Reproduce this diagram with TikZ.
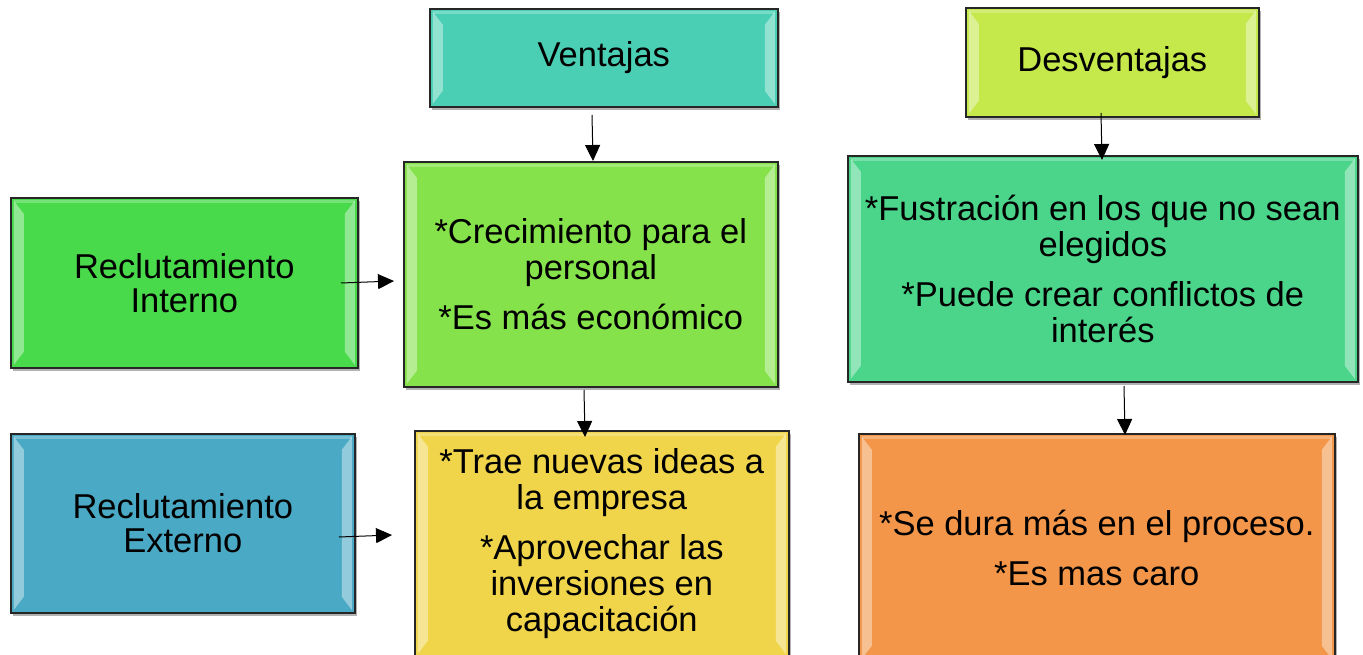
\documentclass[tikz,border=0pt]{standalone}
\usepackage{fontspec}
\setmainfont{Liberation Sans}
\usetikzlibrary{shadows,arrows.meta}
\definecolor{cteal}{HTML}{4ACFB5}
\definecolor{clime}{HTML}{C5E84B}
\definecolor{cgreenA}{HTML}{85E24B}
\definecolor{cgreenB}{HTML}{49DA4B}
\definecolor{cmint}{HTML}{4AD58A}
\definecolor{cblue}{HTML}{4AA9C5}
\definecolor{cyellow}{HTML}{F0D54A}
\definecolor{corange}{HTML}{F39649}
\begin{document}
\begin{tikzpicture}[x=1pt,y=-1pt,
  box/.style={draw=black!85, line width=1.6pt, rectangle, anchor=north west, inner sep=0pt,
    align=center, font=\fontsize{34.5}{36}\selectfont,
    drop shadow={shadow xshift=2pt,shadow yshift=-3pt,opacity=0.3,fill=black},
    path picture={
      \fill[white,opacity=0.4]
        ([xshift=3pt,yshift=-3pt]path picture bounding box.north west) --
        ([xshift=13pt,yshift=-16pt]path picture bounding box.north west) --
        ([xshift=13pt,yshift=16pt]path picture bounding box.south west) --
        ([xshift=3pt,yshift=3pt]path picture bounding box.south west) -- cycle;
      \fill[white,opacity=0.4]
        ([xshift=-3pt,yshift=-3pt]path picture bounding box.north east) --
        ([xshift=-13pt,yshift=-16pt]path picture bounding box.north east) --
        ([xshift=-13pt,yshift=16pt]path picture bounding box.south east) --
        ([xshift=-3pt,yshift=3pt]path picture bounding box.south east) -- cycle;
      \fill[white,opacity=0.25]
        ([xshift=3pt,yshift=-2pt]path picture bounding box.north west) rectangle
        ([xshift=-3pt,yshift=-5pt]path picture bounding box.north east);
    }},
  arr/.style={-{Triangle[length=16pt,width=15pt]}, line width=1pt}]
\useasboundingbox (0,0) rectangle (1363,655);

\node[box, fill=cteal, minimum width=348pt, minimum height=98pt] (vent) at (429,8) {Ventajas};
\node[box, fill=clime, minimum width=293pt, minimum height=109pt] (desv) at (965,7) {Desventajas};
\node[box, fill=cgreenA, minimum width=374pt, minimum height=225pt] (crec) at (403,161)
  {*Crecimiento para el\\personal\\[14pt]*Es más económico};
\node[box, fill=cgreenB, minimum width=347pt, minimum height=170pt] (inter) at (10,197)
  {Reclutamiento\\[-2pt]Interno};
\node[box, fill=cmint, minimum width=510pt, minimum height=226pt] (fust) at (847,155)
  {*Fustración en los que no sean\\elegidos\\[14pt]*Puede crear conflictos de\\interés};
\node[box, fill=cblue, minimum width=344pt, minimum height=179pt] (exter) at (10,433)
  {Reclutamiento\\[-2pt]Externo};
\node[box, fill=cyellow, minimum width=374pt, minimum height=226pt] (trae) at (414,430)
  {*Trae nuevas ideas a\\la empresa\\[14pt]*Aprovechar las\\inversiones en\\capacitación};
\node[box, fill=corange, minimum width=476pt, minimum height=228pt] (dura) at (858,433)
  {*Se dura más en el proceso.\\[14pt]*Es mas caro};

\coordinate (v1) at (592,115);   \coordinate (v2) at (593,161);
\coordinate (d1) at (1101,113);  \coordinate (d2) at (1102,160);
\coordinate (i1) at (341,283);   \coordinate (i2) at (394,281);
\coordinate (c1) at (584,390);   \coordinate (c2) at (585,437);
\coordinate (e1) at (339,537);   \coordinate (e2) at (392,535);
\coordinate (f1) at (1124,386);  \coordinate (f2) at (1125,435);

\draw[arr] (v1) -- (v2);
\draw[arr] (d1) -- (d2);
\draw[arr] (i1) -- (i2);
\draw[arr] (c1) -- (c2);
\draw[arr] (e1) -- (e2);
\draw[arr] (f1) -- (f2);
\end{tikzpicture}
\end{document}
